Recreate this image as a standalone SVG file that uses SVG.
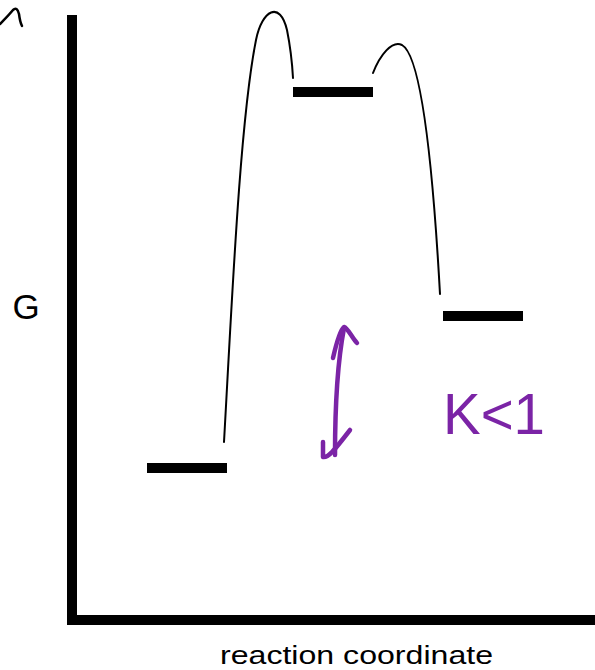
<svg xmlns="http://www.w3.org/2000/svg" width="595" height="670" viewBox="0 0 595 670">
<style>
.lvl{fill:#000}
.curve{fill:none;stroke:#000;stroke-width:2;stroke-linecap:round}
.pen{fill:none;stroke:#7b24a6;stroke-width:4.5;stroke-linecap:round;stroke-linejoin:round}
.lbl{font-family:"Liberation Sans",Arial,sans-serif;fill:#000}
</style>
<rect width="595" height="670" fill="#fff"/>
<g id="axes">
<rect x="67" y="15" width="10" height="610" fill="#000"/>
<rect x="67" y="615" width="528" height="10" fill="#000"/>
<path d="M0,24 Q8,16 13,10 Q17,6 19,14 Q20,22 22,26" fill="none" stroke="#000" stroke-width="2.5" stroke-linecap="round"/>
</g>
<g id="label-G"><text class="lbl" x="26" y="319" font-size="35" text-anchor="middle">G</text></g>
<g id="label-x"><text class="lbl" x="220" y="664" font-size="26" textLength="273" lengthAdjust="spacingAndGlyphs">reaction coordinate</text></g>
<g id="reactant"><rect class="lvl" x="147" y="463" width="80" height="10"/></g>
<g id="intermediate"><rect class="lvl" x="293" y="87" width="80" height="10"/></g>
<g id="product"><rect class="lvl" x="443" y="311" width="80" height="10"/></g>
<g id="connectors">
<path class="curve" d="M224,442 C232,300 240,120 256,40 C262,10 280,0 287,30 C290,45 292,60 293,78"/>
<path class="curve" d="M373,73 C380,55 392,40 402,45 C420,55 432,150 440,294"/>
</g>
<g id="annotation">
<path class="pen" d="M335,455 C335,420 336,370 344,328"/>
<path class="pen" d="M333,358 C336,345 340,330 344,327 C348,328 352,338 357,343"/>
<path class="pen" d="M323,442 L323,457 C328,458 333,452 350,430"/>
<text x="443" y="434" font-family="'Liberation Sans',Arial,sans-serif" font-size="58" fill="#7b24a6" textLength="102" lengthAdjust="spacingAndGlyphs">K&lt;1</text>
</g>
</svg>
